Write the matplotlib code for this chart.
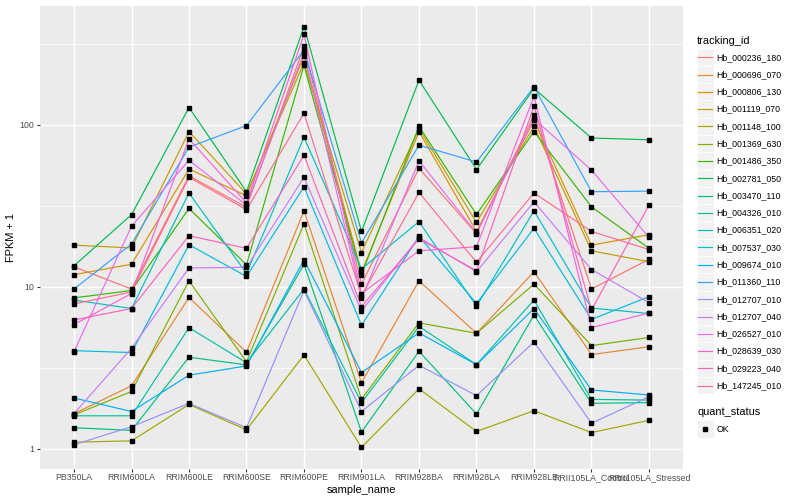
import numpy as np
import matplotlib
matplotlib.use("Agg")
import matplotlib.pyplot as plt
from matplotlib.patches import Rectangle
from matplotlib.lines import Line2D

plt.rcParams['font.family'] = ['Liberation Sans', 'DejaVu Sans']

# samples on the x axis (factor order as in the reference)
samples = ["PB350LA", "RRIM600LA", "RRIM600LE", "RRIM600SE", "RRIM600PE",
           "RRIM901LA", "RRIM928BA", "RRIM928LA", "RRIM928LE",
           "RRII105LA_Control", "RRII105LA_Stressed"]

# FPKM + 1 per gene (one value per sample)
hb_000236_180 = [13.3, 9.7, 48.5, 31.0, 305, 10.4, 54, 21.3, 115, 9.7, 14.8]
hb_000696_070 = [1.65, 2.45, 8.6, 3.95, 29.5, 2.56, 10.9, 5.17, 12.4, 3.82, 4.27]
hb_000806_130 = [11.9, 13.8, 53.4, 36.5, 265, 12.3, 91, 22.0, 107, 18.1, 21.0]
hb_001119_070 = [18.1, 17.4, 91, 37.5, 242, 16.3, 95, 25.0, 98, 16.7, 14.3]
hb_001148_100 = [1.10, 1.12, 1.88, 1.31, 3.8, 1.02, 2.35, 1.28, 1.72, 1.26, 1.50]
hb_001369_630 = [1.62, 2.26, 10.9, 3.45, 24.5, 2.03, 6.0, 5.17, 10.4, 4.34, 4.87]
hb_001486_350 = [8.55, 9.5, 30.5, 13.7, 233, 11.9, 98, 28.0, 91, 31.2, 17.3]
hb_002781_050 = [13.5, 27.9, 128, 38.7, 405, 22.0, 189, 53, 168, 83, 81]
hb_003470_110 = [1.35, 1.30, 3.68, 3.3, 13.8, 1.27, 4.0, 1.64, 6.7, 1.91, 1.93]
hb_004326_010 = [1.60, 1.60, 5.6, 3.4, 9.7, 1.93, 5.7, 3.31, 8.3, 2.02, 2.0]
hb_006351_020 = [8.3, 7.35, 38, 12.1, 84, 12.9, 25.3, 7.6, 29.5, 7.4, 6.85]
hb_007537_030 = [4.04, 3.93, 18.2, 11.6, 41.5, 5.8, 20.5, 7.9, 23.0, 6.3, 8.7]
hb_009674_010 = [2.06, 1.70, 2.85, 3.25, 14.7, 2.96, 5.2, 3.31, 7.35, 2.31, 2.15]
hb_011360_110 = [9.7, 18.4, 73, 99, 290, 18.7, 75, 59, 172, 38.7, 39]
hb_012707_010 = [1.06, 1.37, 1.91, 1.35, 9.5, 1.70, 3.28, 2.13, 4.57, 1.44, 2.1]
hb_012707_040 = [1.65, 4.18, 13.1, 13.2, 47.5, 7.1, 20.2, 12.4, 33.5, 12.8, 8.0]
hb_026527_010 = [3.97, 23.7, 60.5, 32, 280, 8.5, 60, 21.5, 109, 52.6, 20.2]
hb_028639_030 = [5.85, 9.1, 82, 33, 362, 9.1, 16.7, 17.7, 150, 5.6, 6.9]
hb_029223_040 = [6.25, 7.35, 20.7, 17.3, 65, 7.55, 19.8, 12.6, 131, 7.2, 32]
hb_147245_010 = [7.85, 9.3, 47.5, 30, 118, 8.8, 38.3, 14.2, 38, 22.0, 17.0]

tracking_ids = ["Hb_000236_180", "Hb_000696_070", "Hb_000806_130", "Hb_001119_070",
                "Hb_001148_100", "Hb_001369_630", "Hb_001486_350", "Hb_002781_050",
                "Hb_003470_110", "Hb_004326_010", "Hb_006351_020", "Hb_007537_030",
                "Hb_009674_010", "Hb_011360_110", "Hb_012707_010", "Hb_012707_040",
                "Hb_026527_010", "Hb_028639_030", "Hb_029223_040", "Hb_147245_010"]
series = [hb_000236_180, hb_000696_070, hb_000806_130, hb_001119_070,
          hb_001148_100, hb_001369_630, hb_001486_350, hb_002781_050,
          hb_003470_110, hb_004326_010, hb_006351_020, hb_007537_030,
          hb_009674_010, hb_011360_110, hb_012707_010, hb_012707_040,
          hb_026527_010, hb_028639_030, hb_029223_040, hb_147245_010]

# ggplot hue palette, 20 levels
colors = ["#F8766D", "#EA8331", "#D89000", "#C09B00", "#A3A500", "#7CAE00",
          "#39B600", "#00BB4E", "#00BF7D", "#00C1A3", "#00BFC4", "#00BAE0",
          "#00B0F6", "#35A2FF", "#9590FF", "#C77CFF", "#E76BF3", "#FA62DB",
          "#FF62BC", "#FF6C91"]

W, H = 800, 500
fig = plt.figure(figsize=(W / 100, H / 100), dpi=100)
fig.patch.set_facecolor("white")

def fx(px):
    return px / W

def fy(py):
    return 1 - py / H

# panel placement in pixels
pl, pr, pt, pb = 39.5, 683.5, 5.5, 468.5
ax = fig.add_axes([fx(pl), fy(pb), fx(pr) - fx(pl), fy(pt) - fy(pb)])
ax.set_facecolor("#EBEBEB")
for s in ax.spines.values():
    s.set_visible(False)

x = np.arange(len(samples))
for vals, col in zip(series, colors):
    ax.plot(x, vals, color=col, lw=0.85, zorder=3)
for vals in series:
    ax.plot(x, vals, ls="none", marker="s", ms=2.6, color="black", zorder=4)

ax.set_yscale("log")
allv = np.log10(np.concatenate([np.array(v) for v in series]))
lo, hi = allv.min(), allv.max()
pad = 0.05 * (hi - lo)
ax.set_ylim(10 ** (lo - pad), 10 ** (hi + pad))
ax.set_xlim(-0.6, len(samples) - 1 + 0.6)

ax.set_yticks([1, 10, 100])
ax.set_yticklabels(["1", "10", "100"])
ax.set_yticks([10 ** 0.5, 10 ** 1.5, 10 ** 2.5], minor=True)
ax.yaxis.set_minor_formatter(matplotlib.ticker.NullFormatter())
ax.set_xticks(x)
ax.set_xticklabels(samples)

ax.grid(True, which="major", color="white", lw=1.05, zorder=0)
ax.grid(True, which="minor", axis="y", color="white", lw=0.5, zorder=0)
ax.set_axisbelow(True)
ax.tick_params(axis="both", which="major", length=2.0, width=0.8, color="#333333",
               labelsize=6.3, labelcolor="#4D4D4D", pad=1.6)
ax.tick_params(axis="y", which="minor", length=0)

ax.set_xlabel("sample_name", fontsize=7.9, labelpad=1.5)
ax.set_ylabel("FPKM + 1", fontsize=7.9, labelpad=3)

# legend: tracking_id
lx0, kw = 696.5, 17.28
fig.text(fx(697), fy(40.5), "tracking_id", fontsize=7.9, ha="left", va="center")
y0 = 57.3
for i, (lab, col) in enumerate(zip(tracking_ids, colors)):
    yc = y0 + i * kw
    fig.add_artist(Rectangle((fx(lx0), fy(yc + kw / 2)), kw / W, kw / H,
                             transform=fig.transFigure, facecolor="#F2F2F2",
                             edgecolor="white", lw=0.6))
    fig.add_artist(Line2D([fx(lx0 + 1.5), fx(lx0 + kw - 1.5)], [fy(yc), fy(yc)],
                          transform=fig.transFigure, color=col, lw=0.85))
    fig.text(fx(716.5), fy(yc), lab, fontsize=6.3, ha="left", va="center")

# legend: quant_status
fig.text(fx(697), fy(412.3), "quant_status", fontsize=7.9, ha="left", va="center")
yc = 429.0
fig.add_artist(Rectangle((fx(lx0), fy(yc + kw / 2)), kw / W, kw / H,
                         transform=fig.transFigure, facecolor="#F2F2F2",
                         edgecolor="white", lw=0.6))
fig.add_artist(Line2D([fx(lx0 + kw / 2)], [fy(yc)], transform=fig.transFigure,
                      ls="none", marker="s", ms=2.6, color="black"))
fig.text(fx(716.5), fy(yc), "OK", fontsize=6.3, ha="left", va="center")

fig.savefig("out.png", dpi=100)
